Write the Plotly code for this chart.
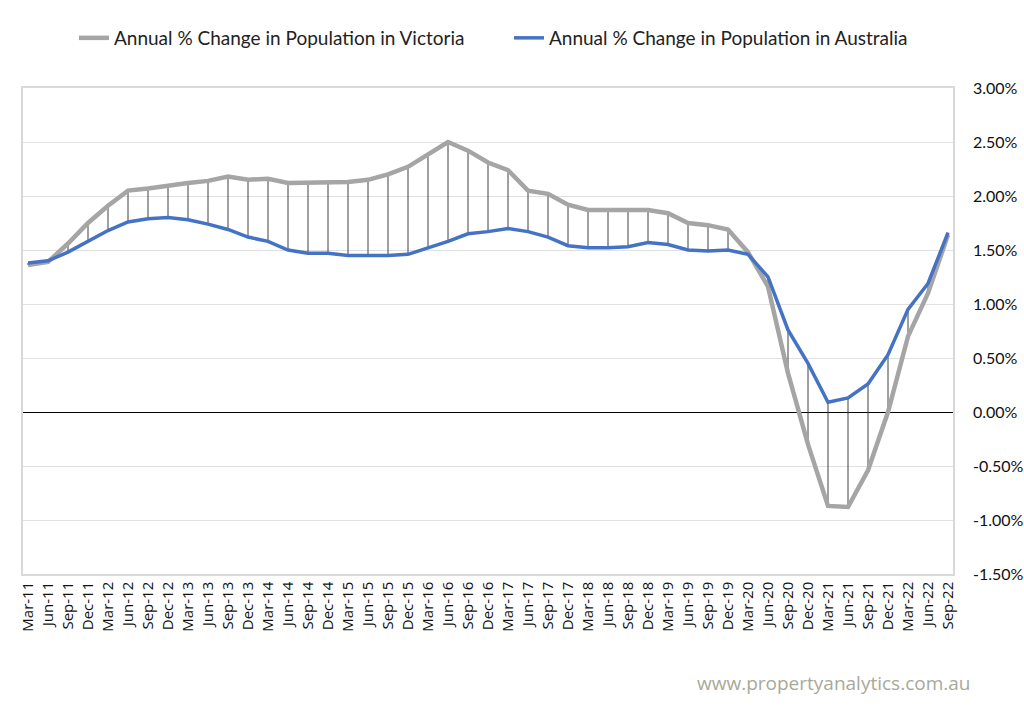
import plotly.graph_objects as go

quarters = ["Mar-11","Jun-11","Sep-11","Dec-11","Mar-12","Jun-12","Sep-12","Dec-12",
            "Mar-13","Jun-13","Sep-13","Dec-13","Mar-14","Jun-14","Sep-14","Dec-14",
            "Mar-15","Jun-15","Sep-15","Dec-15","Mar-16","Jun-16","Sep-16","Dec-16",
            "Mar-17","Jun-17","Sep-17","Dec-17","Mar-18","Jun-18","Sep-18","Dec-18",
            "Mar-19","Jun-19","Sep-19","Dec-19","Mar-20","Jun-20","Sep-20","Dec-20",
            "Mar-21","Jun-21","Sep-21","Dec-21","Mar-22","Jun-22","Sep-22"]

victoria = [1.36, 1.39, 1.56, 1.75, 1.91, 2.05, 2.07, 2.10,
            2.12, 2.14, 2.18, 2.15, 2.16, 2.12, 2.12, 2.13,
            2.13, 2.15, 2.20, 2.27, 2.39, 2.50, 2.42, 2.31,
            2.24, 2.05, 2.02, 1.92, 1.87, 1.87, 1.88, 1.87,
            1.84, 1.75, 1.73, 1.69, 1.48, 1.16, 0.36, -0.30,
            -0.87, -0.88, -0.54, 0.00, 0.70, 1.10, 1.64]

australia = [1.38, 1.40, 1.48, 1.58, 1.68, 1.76, 1.79, 1.80,
             1.78, 1.74, 1.69, 1.62, 1.58, 1.50, 1.47, 1.47,
             1.45, 1.45, 1.45, 1.46, 1.52, 1.58, 1.65, 1.67,
             1.70, 1.67, 1.62, 1.54, 1.52, 1.52, 1.53, 1.57,
             1.55, 1.50, 1.49, 1.50, 1.46, 1.25, 0.76, 0.45,
             0.09, 0.13, 0.26, 0.53, 0.95, 1.19, 1.66]

y_ticks = [3.0, 2.5, 2.0, 1.5, 1.0, 0.5, 0.0, -0.5, -1.0, -1.5]

# high-low connector lines
hx, hy = [], []
for q, v, a in zip(quarters, victoria, australia):
    hx += [q, q, None]
    hy += [v, a, None]

fig = go.Figure()
fig.add_trace(go.Scatter(x=hx, y=hy, mode="lines", line=dict(color="#404040", width=1),
                         showlegend=False, hoverinfo="skip"))
fig.add_trace(go.Scatter(x=quarters, y=victoria, mode="lines",
                         name="Annual % Change in Population in Victoria",
                         line=dict(color="#a5a5a5", width=4.5)))
fig.add_trace(go.Scatter(x=quarters, y=australia, mode="lines",
                         name="Annual % Change in Population in Australia",
                         line=dict(color="#4472c4", width=3.5)))

fig.update_layout(
    width=1024, height=712,
    margin=dict(l=23, r=71, t=88, b=138, autoexpand=False),
    paper_bgcolor="white", plot_bgcolor="white",
    font=dict(family="Lato, Open Sans, sans-serif", color="#222222"),
    legend=dict(orientation="h", xref="container", x=(88 - 28 + 14) / 1024, xanchor="left",
                y=1 - 38 / 712, yref="container",
                yanchor="middle", font=dict(family="Lato, sans-serif", size=19, color="#222"),
                itemwidth=30, tracegroupgap=0, traceorder="normal",
                entrywidth=390, entrywidthmode="pixels"),
    xaxis=dict(type="category", range=[-0.25, 46.25], tickangle=-90,
               tickfont=dict(family="Open Sans, sans-serif", size=15, color="#111"),
               showgrid=False, showline=True, linecolor="#d9d9d9", linewidth=1.5, mirror=True,
               ticks="", fixedrange=True, automargin=False),
    yaxis=dict(side="right", range=[-1.5, 3.0], tickvals=y_ticks,
               ticktext=[f"{v:.2f}%" for v in y_ticks],
               tickfont=dict(family="Lato, sans-serif", size=16, color="#111"),
               showgrid=True, gridcolor="#e0e0e0", gridwidth=1,
               zeroline=True, zerolinecolor="#000000", zerolinewidth=1,
               showline=True, linecolor="#d9d9d9", linewidth=1.5, mirror=True,
               ticks="", ticklabelstandoff=15, automargin=False),
    annotations=[dict(text="www.propertyanalytics.com.au", xref="paper", yref="paper",
                      x=(972 - 23) / 930, y=(574 - 683) / 486, xanchor="right", yanchor="middle",
                      showarrow=False,
                      font=dict(family="Open Sans, sans-serif", size=19, color="#a9a99a"))],
)

fig.write_html("out.html")
